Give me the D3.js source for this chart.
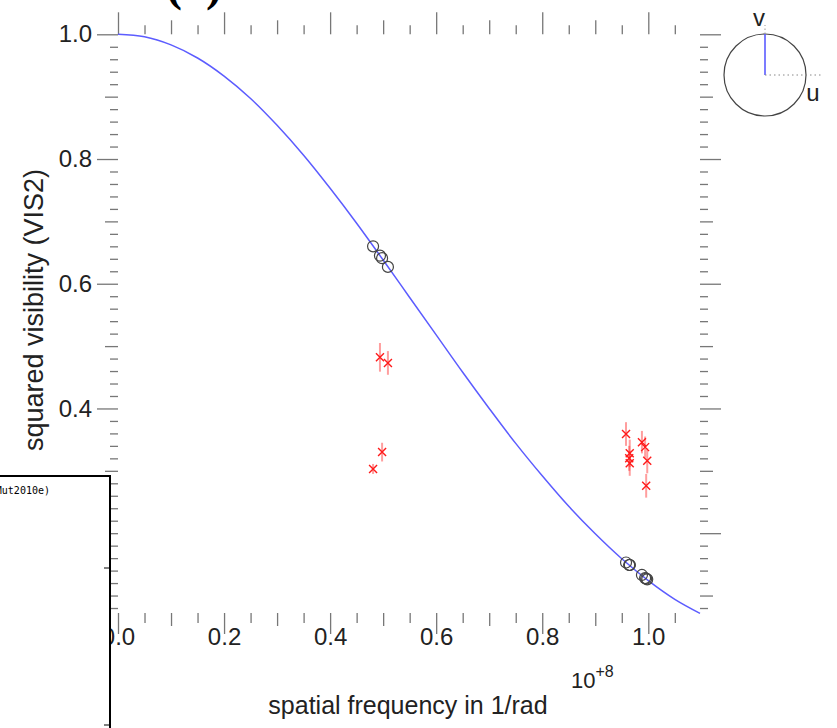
<!DOCTYPE html>
<html>
<head>
<meta charset="utf-8">
<script src="https://cdn.jsdelivr.net/npm/d3@7"></script>
<style>
  body { margin: 0; background: #fff; }
  svg { display: block; }
</style>
</head>
<body>
<svg id="chart" width="837" height="728"></svg>
<script>
// ------ measured points (spatial frequency in 1e8 1/rad)
var uFreq     = [0.481, 0.494, 0.498, 0.509, 0.958, 0.964, 0.965, 0.965, 0.988, 0.994, 0.996, 0.998];
var vis2      = [0.303, 0.482, 0.330, 0.473, 0.359, 0.320, 0.328, 0.312, 0.346, 0.338, 0.276, 0.316];
var vis2Err   = [0.008, 0.023, 0.015, 0.019, 0.019, 0.020, 0.022, 0.020, 0.018, 0.017, 0.019, 0.020];
// model value at each measured frequency (open circles)
var vis2Model = [0.660, 0.645, 0.641, 0.627, 0.153, 0.149, 0.149, 0.149, 0.133, 0.128, 0.127, 0.126];

// ------ model curve
var curveU  = [0, 0.05, 0.10, 0.15, 0.20, 0.25, 0.30, 0.35, 0.40, 0.45, 0.50, 0.55,
               0.60, 0.65, 0.70, 0.75, 0.80, 0.85, 0.90, 0.95, 1.00, 1.05, 1.0975];
var curveV2 = [1.000, 0.996, 0.983, 0.962, 0.933, 0.897, 0.854, 0.806, 0.753, 0.697, 0.638, 0.578,
               0.518, 0.458, 0.400, 0.344, 0.292, 0.243, 0.199, 0.159, 0.124, 0.094, 0.0715];

// ------ tick labels
var xMajor = [0.0, 0.2, 0.4, 0.6, 0.8, 1.0];
var yMajor = [0.2, 0.4, 0.6, 0.8, 1.0];

var svg = d3.select("#chart");

// plot box
var plotLeft = 118, plotRight = 700, plotTop = 34.3, plotBottom = 613;

var xScale = d3.scaleLinear().domain([0, 1.0975]).range([plotLeft, plotRight]);
var yScale = d3.scaleLinear().domain([0.072, 1.0]).range([plotBottom, plotTop]);

// minor / medium ticks
var xMinor  = d3.range(1, 22).filter(i => i % 2 == 1).map(i => i * 0.05);
var xMedium = [0.1, 0.3, 0.5, 0.7, 0.9];
var xMinorOnly = xMinor.filter(v => xMedium.every(m => Math.abs(m - v) > 1e-6));
var yAll    = d3.range(4, 50).map(i => i * 0.02);
var yMedium = [0.1, 0.3, 0.5, 0.7, 0.9];
var yMinorOnly = yAll.filter(v => Math.round(v * 100) % 10 != 0);

var tickFont = "24px 'Liberation Sans', Arial, sans-serif";

function tierAxis(axisFn, scale, pos, vals, len, labels, pad) {
  var ax = axisFn(scale).tickValues(vals).tickSize(len)
    .tickPadding(pad || 3)
    .tickFormat(labels ? d3.format(".1f") : "");
  var g = svg.append("g").attr("transform", pos).call(ax);
  g.select(".domain").remove();
  g.selectAll(".tick line").attr("stroke", "#777").attr("stroke-width", 1.3);
  g.selectAll(".tick text").style("font", tickFont).attr("fill", "#222");
  return g;
}

// bottom
tierAxis(d3.axisBottom, xScale, "translate(0," + plotBottom + ")", xMinorOnly, 10, false);
tierAxis(d3.axisBottom, xScale, "translate(0," + plotBottom + ")", xMedium, 13, false);
tierAxis(d3.axisBottom, xScale, "translate(0," + plotBottom + ")", xMajor, 21, true, -6);
// top
tierAxis(d3.axisTop, xScale, "translate(0," + plotTop + ")", xMinorOnly, 9, false);
tierAxis(d3.axisTop, xScale, "translate(0," + plotTop + ")", xMedium, 14, false);
tierAxis(d3.axisTop, xScale, "translate(0," + plotTop + ")", xMajor, 22, false);
// left
tierAxis(d3.axisLeft, yScale, "translate(" + plotLeft + ",0)", yMinorOnly, 8, false);
tierAxis(d3.axisLeft, yScale, "translate(" + plotLeft + ",0)", yMedium, 13, false);
tierAxis(d3.axisLeft, yScale, "translate(" + plotLeft + ",0)", yMajor, 21, true, 5);
// right
tierAxis(d3.axisRight, yScale, "translate(" + plotRight + ",0)", yMinorOnly, 8, false);
tierAxis(d3.axisRight, yScale, "translate(" + plotRight + ",0)", yMedium, 13, false);
tierAxis(d3.axisRight, yScale, "translate(" + plotRight + ",0)", yMajor, 21, false);

// ------ model curve
var curvePts = curveU.map((u, i) => [u, curveV2[i]]);
svg.append("path")
  .datum(curvePts)
  .attr("fill", "none")
  .attr("stroke", "#5c5cff")
  .attr("stroke-width", 1.5)
  .attr("d", d3.line().x(d => xScale(d[0])).y(d => yScale(d[1])).curve(d3.curveCatmullRom));

// ------ model values at data points
svg.selectAll(".model")
  .data(uFreq)
  .enter().append("circle")
  .attr("class", "model")
  .attr("cx", d => xScale(d))
  .attr("cy", (d, i) => yScale(vis2Model[i]))
  .attr("r", 5.5)
  .attr("fill", "none")
  .attr("stroke", "#444")
  .attr("stroke-width", 1.2);

// ------ data with error bars
var pts = uFreq.map((u, i) => ({u: u, v: vis2[i], e: vis2Err[i]}));
svg.selectAll(".err")
  .data(pts)
  .enter().append("line")
  .attr("class", "err")
  .attr("x1", d => xScale(d.u)).attr("x2", d => xScale(d.u))
  .attr("y1", d => yScale(d.v - d.e)).attr("y2", d => yScale(d.v + d.e))
  .attr("stroke", "rgba(255,40,40,0.45)")
  .attr("stroke-width", 2);

var s = 4;
svg.selectAll(".cross")
  .data(pts)
  .enter().append("path")
  .attr("class", "cross")
  .attr("d", d => {
    var x = xScale(d.u), y = yScale(d.v);
    return "M" + (x - s) + "," + (y - s) + "L" + (x + s) + "," + (y + s) +
           "M" + (x - s) + "," + (y + s) + "L" + (x + s) + "," + (y - s);
  })
  .attr("stroke", "#ff1a1a")
  .attr("stroke-width", 1.4)
  .attr("fill", "none");

// ------ axis titles
svg.append("text")
  .attr("transform", "translate(43,310) rotate(-90)")
  .attr("text-anchor", "middle")
  .style("font", "27px 'Liberation Sans', Arial, sans-serif")
  .attr("fill", "#222")
  .text("squared visibility (VIS2)");

svg.append("text")
  .attr("x", 408).attr("y", 714)
  .attr("text-anchor", "middle")
  .style("font", "25px 'Liberation Sans', Arial, sans-serif")
  .attr("fill", "#222")
  .text("spatial frequency in 1/rad");

var expo = svg.append("text")
  .attr("x", 571).attr("y", 688)
  .style("font", "22px 'Liberation Sans', Arial, sans-serif")
  .attr("fill", "#222");
expo.append("tspan").text("10");
expo.append("tspan").attr("dy", -11).style("font-size", "16px").text("+8");

// ------ title, mostly above the picture
svg.append("text")
  .attr("x", 166).attr("y", 0)
  .style("font", "bold 48px 'Liberation Serif', 'Times New Roman', serif")
  .attr("fill", "#000")
  .text("(2)");

// ------ uv orientation inset
var uv = {cx: 765, cy: 75, r: 41};
svg.append("circle")
  .attr("cx", uv.cx).attr("cy", uv.cy).attr("r", uv.r)
  .attr("fill", "none").attr("stroke", "#444").attr("stroke-width", 1.2);
svg.append("line")
  .attr("x1", uv.cx).attr("x2", uv.cx).attr("y1", uv.cy).attr("y2", uv.cy - uv.r)
  .attr("stroke", "#5050ff").attr("stroke-width", 1.5);
svg.append("line")
  .attr("x1", uv.cx).attr("x2", uv.cx).attr("y1", uv.cy - uv.r).attr("y2", uv.cy - uv.r - 9)
  .attr("stroke", "#999").attr("stroke-width", 1).attr("stroke-dasharray", "1.5,2.5");
svg.append("line")
  .attr("x1", uv.cx).attr("x2", uv.cx + 57).attr("y1", uv.cy).attr("y2", uv.cy)
  .attr("stroke", "#888").attr("stroke-width", 1).attr("stroke-dasharray", "1.5,3");
svg.append("text")
  .attr("x", 759).attr("y", 26).attr("text-anchor", "middle")
  .style("font", "24px 'Liberation Sans', Arial, sans-serif").attr("fill", "#222")
  .text("v");
svg.append("text")
  .attr("x", 813).attr("y", 101).attr("text-anchor", "middle")
  .style("font", "24px 'Liberation Sans', Arial, sans-serif").attr("fill", "#222")
  .text("u");

// ------ overlapping window at lower left
svg.append("rect")
  .attr("x", -2).attr("y", 476).attr("width", 112).attr("height", 270)
  .attr("fill", "#fff").attr("stroke", "#000").attr("stroke-width", 2);
svg.append("line").attr("x1", 104).attr("x2", 110).attr("y1", 568).attr("y2", 568)
  .attr("stroke", "#000").attr("stroke-width", 1);
svg.append("line").attr("x1", 104).attr("x2", 110).attr("y1", 725).attr("y2", 725)
  .attr("stroke", "#000").attr("stroke-width", 1);
svg.append("text")
  .attr("x", 50).attr("y", 494).attr("text-anchor", "end")
  .style("font", "10px 'DejaVu Sans Mono', monospace").attr("fill", "#000")
  .text("(Mut2010e)");
</script>
</body>
</html>
